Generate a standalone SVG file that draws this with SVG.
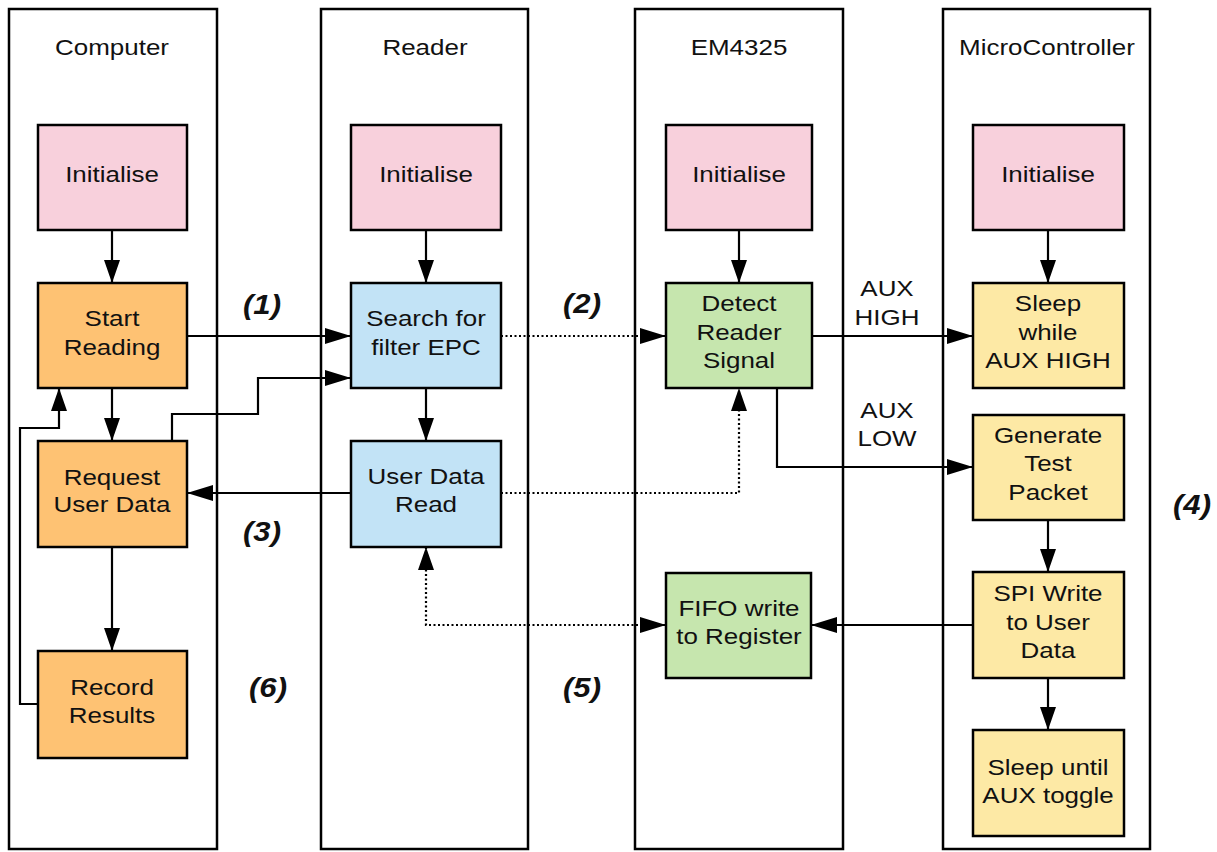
<svg xmlns="http://www.w3.org/2000/svg" width="1217" height="852" viewBox="0 0 1217 852">
<style>
.lane{fill:#fff;stroke:#000;stroke-width:2.5}
.box{stroke:#000;stroke-width:2.5}
.pink{fill:#f8d0dc}.orange{fill:#fec273}.blue{fill:#c2e3f6}.green{fill:#c6e6ae}.yellow{fill:#fde9a5}
text{font-family:"Liberation Sans",Arial,sans-serif;font-size:22px;fill:#111;text-anchor:middle;dominant-baseline:central}
.lbl{font-weight:bold;font-style:italic;font-size:27px}
.c{fill:none;stroke:#000;stroke-width:2.2}
.d{fill:none;stroke:#000;stroke-width:2.2;stroke-dasharray:2 2.5}
</style>
<defs>
<marker id="ah" markerUnits="userSpaceOnUse" markerWidth="28" markerHeight="18" refX="26" refY="8" orient="auto-start-reverse"><path d="M0,0 L26,8 L0,16 Z" fill="#000"/></marker>
<marker id="av" markerUnits="userSpaceOnUse" markerWidth="28" markerHeight="18" refX="23" refY="8" orient="auto-start-reverse"><path d="M0,0 L23,8 L0,16 Z" fill="#000"/></marker>
</defs>
<g id="lanes">
<rect class="lane" x="9" y="9" width="208" height="840"/>
<rect class="lane" x="321" y="9" width="207" height="840"/>
<rect class="lane" x="635" y="9" width="208" height="840"/>
<rect class="lane" x="943" y="9" width="207" height="840"/>
<text transform="translate(112 47) scale(1.18 1)">Computer</text>
<text transform="translate(425 47) scale(1.18 1)">Reader</text>
<text transform="translate(739 47) scale(1.18 1)">EM4325</text>
<text transform="translate(1047 47) scale(1.18 1)">MicroController</text>
</g>
<g id="connectors">
<path class="c" d="M112,230 V283" marker-end="url(#av)"/>
<path class="c" d="M112,388 V441" marker-end="url(#av)"/>
<path class="c" d="M112,547 V651" marker-end="url(#av)"/>
<path class="c" d="M38,704 H20 V428 H59 V388" marker-end="url(#av)"/>
<path class="c" d="M187,336 H351" marker-end="url(#ah)"/>
<path class="c" d="M172,441 V414 H258 V378 H351" marker-end="url(#ah)"/>
<path class="c" d="M351,493 H187" marker-end="url(#ah)"/>
<path class="c" d="M426,230 V283" marker-end="url(#av)"/>
<path class="c" d="M426,388 V441" marker-end="url(#av)"/>
<path class="d" d="M501,336 H666" marker-end="url(#ah)"/>
<path class="d" d="M501,493 H739 V388" marker-end="url(#av)"/>
<path class="d" d="M426,547 V625 H666" marker-start="url(#av)" marker-end="url(#ah)"/>
<path class="c" d="M739,230 V283" marker-end="url(#av)"/>
<path class="c" d="M812,336 H973" marker-end="url(#ah)"/>
<path class="c" d="M777,388 V467 H973" marker-end="url(#ah)"/>
<path class="c" d="M1048,230 V283" marker-end="url(#av)"/>
<path class="c" d="M1048,520 V572" marker-end="url(#av)"/>
<path class="c" d="M1048,678 V730" marker-end="url(#av)"/>
<path class="c" d="M973,625 H811" marker-end="url(#ah)"/>
<text transform="translate(887 288) scale(1.18 1)">AUX</text>
<text transform="translate(887 317) scale(1.18 1)">HIGH</text>
<text transform="translate(887 410) scale(1.18 1)">AUX</text>
<text transform="translate(887 438) scale(1.18 1)">LOW</text>
</g>
<g id="labels">
<text class="lbl" transform="translate(262 305) scale(1.15 1)">(1)</text>
<text class="lbl" transform="translate(582 304) scale(1.15 1)">(2)</text>
<text class="lbl" transform="translate(262 532) scale(1.15 1)">(3)</text>
<text class="lbl" transform="translate(1192 505) scale(1.15 1)">(4)</text>
<text class="lbl" transform="translate(582 688) scale(1.15 1)">(5)</text>
<text class="lbl" transform="translate(268 688) scale(1.15 1)">(6)</text>
</g>
<g id="comp-init"><rect class="box pink" x="38" y="125" width="149" height="105"/><text transform="translate(112 174) scale(1.18 1)">Initialise</text></g>
<g id="start-reading"><rect class="box orange" x="38" y="283" width="149" height="105"/><text transform="translate(112 318) scale(1.18 1)">Start</text><text transform="translate(112 347) scale(1.18 1)">Reading</text></g>
<g id="request-user-data"><rect class="box orange" x="38" y="441" width="149" height="106"/><text transform="translate(112 477) scale(1.18 1)">Request</text><text transform="translate(112 504) scale(1.18 1)">User Data</text></g>
<g id="record-results"><rect class="box orange" x="38" y="651" width="149" height="107"/><text transform="translate(112 687) scale(1.18 1)">Record</text><text transform="translate(112 715) scale(1.18 1)">Results</text></g>
<g id="reader-init"><rect class="box pink" x="351" y="125" width="150" height="105"/><text transform="translate(426 174) scale(1.18 1)">Initialise</text></g>
<g id="search-epc"><rect class="box blue" x="351" y="283" width="150" height="105"/><text transform="translate(426 318) scale(1.18 1)">Search for</text><text transform="translate(426 347) scale(1.18 1)">filter EPC</text></g>
<g id="user-data-read"><rect class="box blue" x="351" y="441" width="150" height="106"/><text transform="translate(426 476) scale(1.18 1)">User Data</text><text transform="translate(426 504) scale(1.18 1)">Read</text></g>
<g id="em-init"><rect class="box pink" x="666" y="125" width="146" height="105"/><text transform="translate(739 174) scale(1.18 1)">Initialise</text></g>
<g id="detect-signal"><rect class="box green" x="666" y="283" width="146" height="105"/><text transform="translate(739 303) scale(1.18 1)">Detect</text><text transform="translate(739 332) scale(1.18 1)">Reader</text><text transform="translate(739 360) scale(1.18 1)">Signal</text></g>
<g id="fifo-write"><rect class="box green" x="666" y="573" width="145" height="105"/><text transform="translate(739 608) scale(1.18 1)">FIFO write</text><text transform="translate(739 636) scale(1.18 1)">to Register</text></g>
<g id="mcu-init"><rect class="box pink" x="973" y="125" width="151" height="105"/><text transform="translate(1048 174) scale(1.18 1)">Initialise</text></g>
<g id="sleep-aux-high"><rect class="box yellow" x="973" y="283" width="151" height="105"/><text transform="translate(1048 303) scale(1.18 1)">Sleep</text><text transform="translate(1048 332) scale(1.18 1)">while</text><text transform="translate(1048 360) scale(1.18 1)">AUX HIGH</text></g>
<g id="generate-packet"><rect class="box yellow" x="973" y="415" width="151" height="105"/><text transform="translate(1048 435) scale(1.18 1)">Generate</text><text transform="translate(1048 463) scale(1.18 1)">Test</text><text transform="translate(1048 492) scale(1.18 1)">Packet</text></g>
<g id="spi-write"><rect class="box yellow" x="973" y="572" width="151" height="106"/><text transform="translate(1048 593) scale(1.18 1)">SPI Write</text><text transform="translate(1048 622) scale(1.18 1)">to User</text><text transform="translate(1048 650) scale(1.18 1)">Data</text></g>
<g id="sleep-toggle"><rect class="box yellow" x="973" y="730" width="151" height="106"/><text transform="translate(1048 767) scale(1.18 1)">Sleep until</text><text transform="translate(1048 795) scale(1.18 1)">AUX toggle</text></g>
</svg>
